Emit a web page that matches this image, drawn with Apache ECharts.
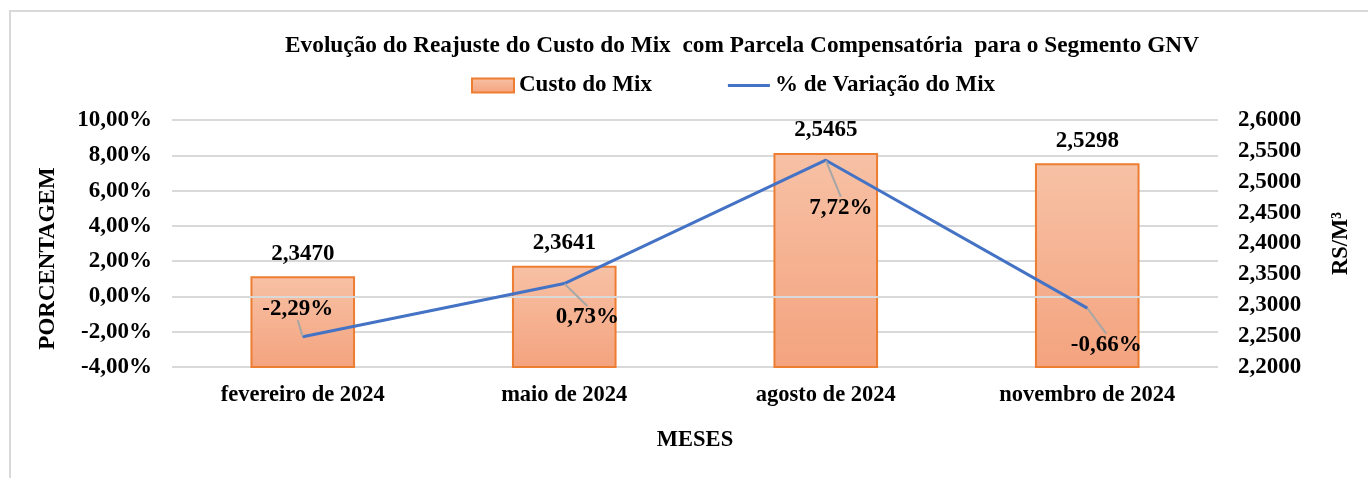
<!DOCTYPE html>
<html><head><meta charset="utf-8">
<script src="https://cdn.jsdelivr.net/npm/echarts@6/dist/echarts.min.js"></script>
<style>html,body{margin:0;padding:0;background:#fff}#c{width:1368px;height:478px}</style>
</head><body><div id="c"></div>
<script>
const categories = ['fevereiro de 2024','maio de 2024','agosto de 2024','novembro de 2024'];
const custoMix = [2.3470, 2.3641, 2.5465, 2.5298];
const variacao = [-2.29, 0.73, 7.72, -0.66];
const leftTicks = {min:-4, max:10, interval:2};
const rightTicks = {min:2.2, max:2.6, interval:0.05};
const labelShift = [[-5,-28],[23,34],[15,48],[19,37]];

const FONT = 'Liberation Serif';
const chart = echarts.init(document.getElementById('c'));
chart.setOption({
  backgroundColor:'#fff',
  textStyle:{fontFamily:FONT},
  title:{text:'Evolução do Reajuste do Custo do Mix  com Parcela Compensatória  para o Segmento GNV',
    left:737, textAlign:'center', top:29,
    textStyle:{fontFamily:FONT,fontWeight:'bold',fontSize:23.3,color:'#000'}},
  legend:{top:69,left:466,itemGap:76,itemWidth:42,itemHeight:14,itemTextGap:6,
    textStyle:{fontFamily:FONT,fontWeight:'bold',fontSize:23,color:'#000'},
    data:[{name:'Custo do Mix',icon:'rect'},
          {name:'% de Variação do Mix',icon:'path://M0,0H40V3H0Z',itemStyle:{color:'#4472c4'}}]},
  graphic:[{type:'polyline',shape:{points:[[10,478],[10,11],[1368,11]]},style:{stroke:'#d9d9d9',lineWidth:2,fill:null}}],
  grid:{left:172,right:150,top:120,bottom:111},
  xAxis:{type:'category',data:categories,
    axisLine:{show:false},axisTick:{show:false},
    axisLabel:{fontFamily:FONT,fontWeight:'bold',fontSize:22.5,color:'#000',margin:17},
    name:'MESES',nameLocation:'middle',nameGap:62,
    nameTextStyle:{fontFamily:FONT,fontWeight:'bold',fontSize:22.5,color:'#000'}},
  yAxis:[
    {type:'value',min:leftTicks.min,max:leftTicks.max,interval:leftTicks.interval,
     axisLine:{show:false},axisTick:{show:false},
     splitLine:{lineStyle:{color:'#d9d9d9',width:2}},
     axisLabel:{fontFamily:FONT,fontWeight:'bold',fontSize:23,color:'#000',margin:20,
       formatter:v=>v.toFixed(2).replace('.',',')+'%'},
     name:'PORCENTAGEM',nameLocation:'middle',nameGap:112,nameRotate:90,
     nameTextStyle:{fontFamily:FONT,fontWeight:'bold',fontSize:23,color:'#000',padding:[0,0,0,-30]}},
    {type:'value',min:rightTicks.min,max:rightTicks.max,interval:rightTicks.interval,
     axisLine:{show:false},axisTick:{show:false},splitLine:{show:false},
     axisLabel:{fontFamily:FONT,fontWeight:'bold',fontSize:23,color:'#000',margin:20,
       formatter:v=>v.toFixed(4).replace('.',',')},
     name:'RS/M³',nameLocation:'middle',nameGap:112,nameRotate:90,
     nameTextStyle:{fontFamily:FONT,fontWeight:'bold',fontSize:22.5,color:'#000'}}
  ],
  series:[
    {name:'Custo do Mix',type:'bar',yAxisIndex:1,data:custoMix,barWidth:'40%',
     itemStyle:{color:new echarts.graphic.LinearGradient(0,0,0,1,[{offset:0,color:'#f7c1a5'},{offset:1,color:'#f4a37e'}]),
       borderColor:'#ed7d31',borderWidth:2},
     label:{show:true,position:'top',distance:11,fontFamily:FONT,fontWeight:'bold',fontSize:23,color:'#000',
       formatter:p=>p.value.toFixed(4).replace('.',',')}},
    {name:'% de Variação do Mix',type:'line',yAxisIndex:0,data:variacao,
     symbol:'circle',symbolSize:1,showSymbol:true,
     lineStyle:{color:'#4472c4',width:3},itemStyle:{color:'#4472c4'},z:5,
     label:{show:true,position:'inside',fontFamily:FONT,fontWeight:'bold',fontSize:23,color:'#000',
       formatter:p=>p.value.toFixed(2).replace('.',',')+'%'},
     labelLine:{show:true,lineStyle:{color:'#a6a6a6',width:2}},
     labelLayout:p=>({dx:labelShift[p.dataIndex][0],dy:labelShift[p.dataIndex][1]}),
     markLine:{silent:true,symbol:'none',label:{show:false},lineStyle:{color:'#d9d9d9',width:2,type:'solid'},data:[{yAxis:0}]}}
  ]
});
</script></body></html>
